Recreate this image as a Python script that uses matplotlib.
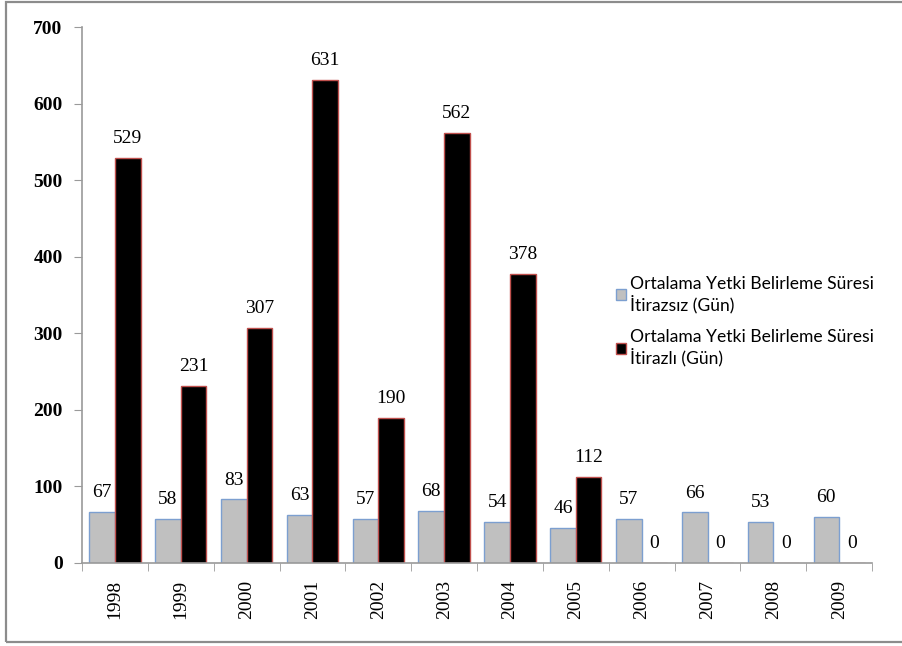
import numpy as np
import matplotlib.pyplot as plt
from matplotlib.patches import Rectangle

years = ["1998", "1999", "2000", "2001", "2002", "2003",
         "2004", "2005", "2006", "2007", "2008", "2009"]
itirazsiz = [67, 58, 83, 63, 57, 68, 54, 46, 57, 66, 53, 60]
itirazli = [529, 231, 307, 631, 190, 562, 378, 112, 0, 0, 0, 0]
legend_labels = ["Ortalama Yetki Belirleme Süresi\nİtirazsız (Gün)",
                 "Ortalama Yetki Belirleme Süresi\nİtirazlı (Gün)"]

fig = plt.figure(figsize=(9.03, 6.46), dpi=100)
ax = fig.add_axes([0.0908, 0.1285, 0.875, 0.8295])

# outer chart frame
fig.patches.append(Rectangle((6 / 903, 4 / 646), 1.0, 1 - 6 / 646,
                             transform=fig.transFigure, fill=False,
                             edgecolor="#8c8c8c", linewidth=1.6))

x = np.arange(len(years))
w = 0.39
b1 = ax.bar(x - w / 2, itirazsiz, w, color="#c0c0c0", edgecolor="#7c9fd0",
            linewidth=1.0, label=legend_labels[0])
b2 = ax.bar(x + w / 2, itirazli, w, color="black", edgecolor="#c0504d",
            linewidth=1.0, label=legend_labels[1])

serif = "Liberation Serif"
for xi, v in zip(x - w / 2, itirazsiz):
    ax.annotate(str(v), (xi, v), xytext=(0, 14), textcoords="offset points",
                ha="center", va="center", fontsize=14, family=serif)
for xi, v in zip(x + w / 2, itirazli):
    ax.annotate(str(v), (xi, v), xytext=(0, 14), textcoords="offset points",
                ha="center", va="center", fontsize=14, family=serif)

ax.set_xlim(-0.5, len(years) - 0.5)
ax.set_ylim(0, 700)
ax.set_yticks(range(0, 701, 100))
ax.set_yticklabels([str(t) for t in range(0, 701, 100)],
                   fontsize=14, family=serif, fontweight="bold")
ax.set_xticks(x)
ax.set_xticklabels(years, rotation=90, fontsize=14, family=serif)
ax.set_xticks(np.arange(-0.5, len(years)), minor=True)
ax.tick_params(axis="x", which="major", length=0, pad=12)
ax.tick_params(axis="x", which="minor", length=6, color="#9a9a9a")
ax.tick_params(axis="y", length=6, color="#9a9a9a", pad=8)

for s in ["top", "right"]:
    ax.spines[s].set_visible(False)
for s in ["left", "bottom"]:
    ax.spines[s].set_color("#9a9a9a")
    ax.spines[s].set_linewidth(1.2)

fig.legend(handles=[b1, b2], loc="upper left",
           bbox_to_anchor=(0.672, 0.587), frameon=False, borderpad=0,
           prop={"family": "Lato", "size": 12.6},
           handlelength=0.6, handleheight=0.6, handletextpad=0.25,
           labelspacing=0.9)

fig.savefig("out.png", dpi=100)
